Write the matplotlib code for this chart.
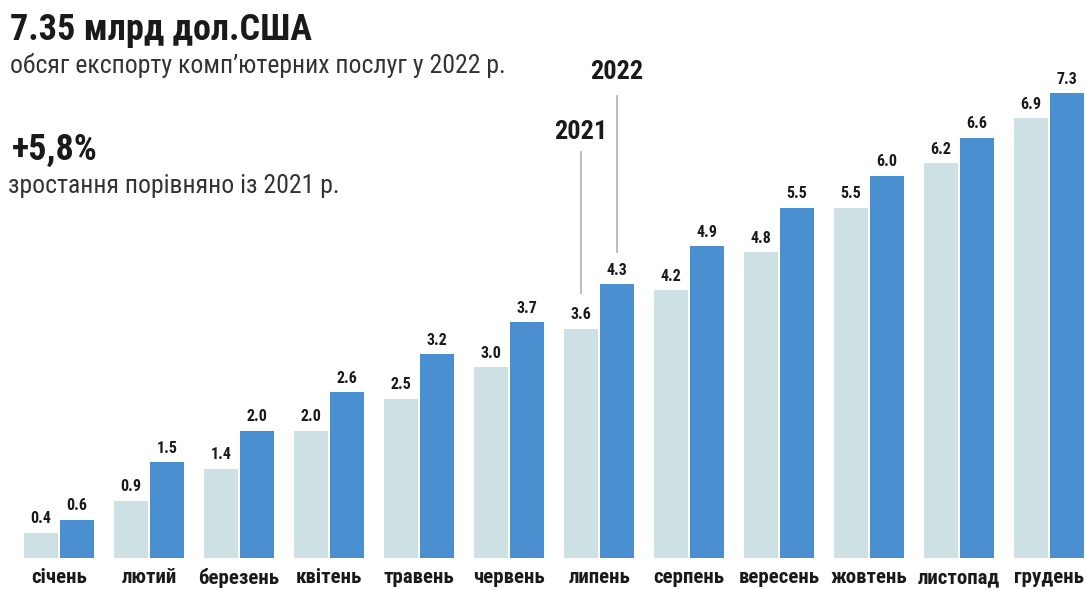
import numpy as np
import matplotlib.pyplot as plt

plt.rcParams['font.family'] = ['Roboto Condensed', 'Liberation Sans Narrow', 'Roboto', 'DejaVu Sans']

months = ['січень', 'лютий', 'березень', 'квітень', 'травень', 'червень',
          'липень', 'серпень', 'вересень', 'жовтень', 'листопад', 'грудень']
vals_2021 = [0.4, 0.9, 1.4, 2.0, 2.5, 3.0, 3.6, 4.2, 4.8, 5.5, 6.2, 6.9]
vals_2022 = [0.6, 1.5, 2.0, 2.6, 3.2, 3.7, 4.3, 4.9, 5.5, 6.0, 6.6, 7.3]

light = '#cde1e4'
dark = '#4a8fd0'

fig = plt.figure(figsize=(10.86, 5.9), dpi=100)
ax = fig.add_axes([0, 32 / 590, 1, 558 / 590])

x = np.arange(len(months))
w = 0.37
off = 0.2
ax.bar(x - off, vals_2021, w, color=light)
ax.bar(x + off, vals_2022, w, color=dark)

for xi, v in zip(x, vals_2021):
    ax.text(xi - off, v + 0.1, f'{v:.1f}', ha='center', va='bottom',
            fontsize=11.5, fontweight='bold', color='#1a1a1a')
for xi, v in zip(x, vals_2022):
    ax.text(xi + off, v + 0.1, f'{v:.1f}', ha='center', va='bottom',
            fontsize=11.5, fontweight='bold', color='#1a1a1a')

ax.set_xlim(-0.656, 11.41)
ax.set_ylim(0, 8.76)
ax.axis('off')

# підписи місяців
for xi, m in zip(x, months):
    ax.text(xi, -0.31, m, ha='center', va='center', fontsize=15,
            fontweight='bold', color='#1a1a1a')

# позначки років на липні
ax.plot([6 - off, 6 - off], [4.16, 6.37], color='#b0b0b0', lw=1.2)
ax.text(6 - off, 6.69, '2021', ha='center', va='center', fontsize=19,
        fontweight='bold', color='#1a1a1a')
ax.plot([6 + off, 6 + off], [4.8, 7.25], color='#b0b0b0', lw=1.2)
ax.text(6 + off, 7.63, '2022', ha='center', va='center', fontsize=19,
        fontweight='bold', color='#1a1a1a')

# заголовки
fig.text(10 / 1086, 1 - 30 / 590, '7.35 млрд дол.США', ha='left', va='center',
         fontsize=26, fontweight='bold', color='#1a1a1a')
fig.text(10 / 1086, 1 - 66 / 590, 'обсяг експорту комп’ютерних послуг у 2022 р.',
         ha='left', va='center', fontsize=18.5, color='#333333')
fig.text(12 / 1086, 1 - 150 / 590, '+5,8%', ha='left', va='center',
         fontsize=26, fontweight='bold', color='#1a1a1a')
fig.text(8 / 1086, 1 - 186 / 590, 'зростання порівняно із 2021 р.',
         ha='left', va='center', fontsize=18.5, color='#333333')

fig.savefig('out.png', dpi=100, facecolor='white')
